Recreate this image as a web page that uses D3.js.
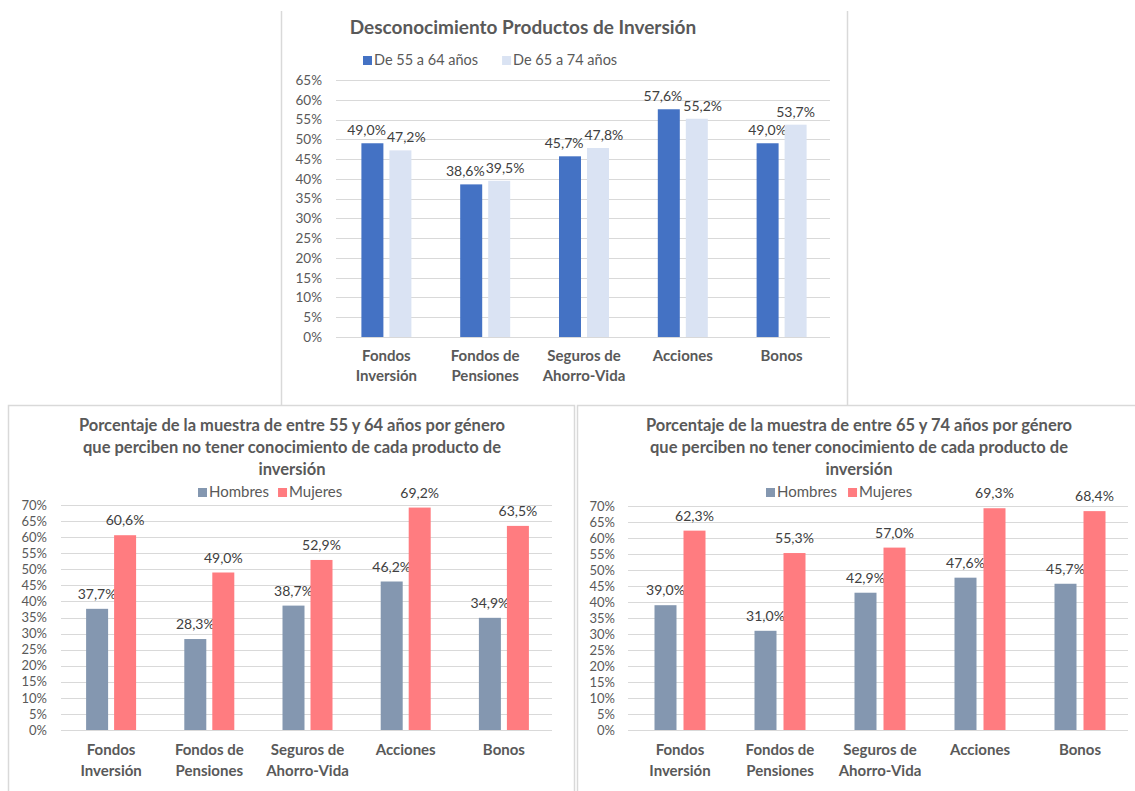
<!DOCTYPE html>
<html><head><meta charset="utf-8">
<script src="https://cdn.jsdelivr.net/npm/d3@7"></script>
<style>html,body{margin:0;padding:0;background:#fff;}svg{display:block;}</style>
</head><body>
<svg id="c" width="1135" height="791"></svg>
<script>
const categories = [["Fondos","Inversión"],["Fondos de","Pensiones"],["Seguros de","Ahorro-Vida"],["Acciones"],["Bonos"]];
const age5564 = [49.0, 38.6, 45.7, 57.6, 49.0];
const age6574 = [47.2, 39.5, 47.8, 55.2, 53.7];
const hombres5564 = [37.7, 28.3, 38.7, 46.2, 34.9];
const mujeres5564 = [60.6, 49.0, 52.9, 69.2, 63.5];
const hombres6574 = [39.0, 31.0, 42.9, 47.6, 45.7];
const mujeres6574 = [62.3, 55.3, 57.0, 69.3, 68.4];
const ticksTop = [0,5,10,15,20,25,30,35,40,45,50,55,60,65];
const ticksBottom = [0,5,10,15,20,25,30,35,40,45,50,55,60,65,70];
const legendTop = ["De 55 a 64 años","De 65 a 74 años"];
const legendGender = ["Hombres","Mujeres"];
const titleTop = ["Desconocimiento Productos de Inversión"];
const titleLeft = ["Porcentaje de la muestra de entre 55 y 64 años por género","que perciben no tener conocimiento de cada producto de","inversión"];
const titleRight = ["Porcentaje de la muestra de entre 65 y 74 años por género","que perciben no tener conocimiento de cada producto de","inversión"];

const FONT = "Lato, Carlito, Calibri, sans-serif";
const svg = d3.select("#c");
const fmt = v => v.toFixed(1).replace(".", ",") + "%";

// panel borders
const border = "#d9d9d9";
svg.append("line").attr("x1",281.5).attr("x2",281.5).attr("y1",11).attr("y2",405).attr("stroke",border).attr("stroke-width",1.5);
svg.append("line").attr("x1",847.5).attr("x2",847.5).attr("y1",11).attr("y2",405).attr("stroke",border).attr("stroke-width",1.5);
svg.append("rect").attr("x",8.5).attr("y",405.5).attr("width",566).attr("height",420).attr("fill","none").attr("stroke",border).attr("stroke-width",1.5);
svg.append("rect").attr("x",577.5).attr("y",405.5).attr("width",600).attr("height",420).attr("fill","none").attr("stroke",border).attr("stroke-width",1.5);

function drawChart(o) {
  const g = svg.append("g");
  const x = d3.scaleBand().domain(d3.range(categories.length)).range([o.x0, o.x1]);
  const y = d3.scaleLinear().domain([0, d3.max(o.ticks)]).range([o.y0, o.yTop]);
  g.selectAll(".grid").data(o.ticks).join("line")
    .attr("x1", o.x0).attr("x2", o.x1)
    .attr("y1", d => Math.round(y(d)) + 0.5).attr("y2", d => Math.round(y(d)) + 0.5)
    .attr("stroke", "#d9d9d9").attr("stroke-width", 1);
  const yAxis = d3.axisLeft(y).tickValues(o.ticks).tickFormat(d => d + "%").tickSize(0).tickPadding(0);
  const ya = g.append("g").attr("transform", `translate(${o.yLabelX},0)`).call(yAxis);
  ya.select(".domain").remove();
  ya.selectAll("text").attr("font-family", FONT).attr("font-size", o.tickFont).attr("fill", "#595959");
  const bw = o.barW, gap = o.gap;
  const labels = [];
  o.series.forEach((s, si) => {
    const off = si === 0 ? -(gap / 2 + bw) : gap / 2;
    g.selectAll(".bar" + si).data(s.values).join("rect")
      .attr("x", (d, i) => x(i) + x.bandwidth() / 2 + off + o.shift)
      .attr("y", d => y(d)).attr("width", bw).attr("height", d => y(0) - y(d))
      .attr("fill", s.color);
    labels.push(g.selectAll(".lab" + si).data(s.values).join("text")
      .attr("x", (d, i) => x(i) + x.bandwidth() / 2 + off + o.shift + bw / 2)
      .attr("y", d => y(d) - o.labGap)
      .attr("text-anchor", "middle").attr("font-family", FONT).attr("font-size", o.labFont)
      .attr("fill", "#404040").text(d => fmt(d)).nodes());
  });
  // de-overlap pair labels horizontally (as the spreadsheet does)
  categories.forEach((c, i) => {
    const a = labels[0][i], b = labels[1][i];
    const ba = a.getBBox(), bb = b.getBBox();
    const vOverlap = !(ba.y + ba.height <= bb.y || bb.y + bb.height <= ba.y);
    const over = (ba.x + ba.width + 1) - bb.x;
    if (vOverlap && over > 0) {
      a.setAttribute("x", +a.getAttribute("x") - over / 2);
      b.setAttribute("x", +b.getAttribute("x") + over / 2);
    }
  });
  categories.forEach((c, i) => {
    c.forEach((line, li) => {
      g.append("text").attr("x", x(i) + x.bandwidth() / 2 + o.shift)
        .attr("y", o.catY + li * o.catLH)
        .attr("text-anchor", "middle").attr("font-family", FONT).attr("font-weight", "bold")
        .attr("font-size", o.catFont).attr("fill", "#595959").text(line);
    });
  });
  o.title.forEach((t, i) => {
    g.append("text").attr("x", o.titleX).attr("y", o.titleY + i * o.titleLH)
      .attr("text-anchor", "middle").attr("font-family", FONT).attr("font-weight", "bold")
      .attr("font-size", o.titleFont).attr("fill", "#595959").text(t);
  });
  let lx = o.legX;
  o.series.forEach((s, si) => {
    g.append("rect").attr("x", lx).attr("y", o.legY - 9).attr("width", 9).attr("height", 9).attr("fill", s.color);
    const t = g.append("text").attr("x", lx + 11).attr("y", o.legY)
      .attr("font-family", FONT).attr("font-size", o.legFont).attr("fill", "#595959").text(s.name);
    lx += 11 + t.node().getComputedTextLength() + o.legSpace;
  });
}

drawChart({
  x0: 336, x1: 830, y0: 337, yTop: 80, ticks: ticksTop, yLabelX: 322,
  barW: 22, gap: 6, shift: 1, labGap: 8, labFont: 14, tickFont: 13.5,
  catY: 361, catLH: 20, catFont: 15,
  title: titleTop, titleX: 523, titleY: 34, titleLH: 20, titleFont: 19,
  legX: 363, legY: 65, legFont: 14.5, legSpace: 24,
  series: [{name: legendTop[0], values: age5564, color: "#4472C4"},
           {name: legendTop[1], values: age6574, color: "#DAE3F3"}]
});
drawChart({
  x0: 61, x1: 552, y0: 730, yTop: 505, ticks: ticksBottom, yLabelX: 47,
  barW: 22, gap: 6, shift: 1, labGap: 10, labFont: 14, tickFont: 13,
  catY: 755, catLH: 21, catFont: 15,
  title: titleLeft, titleX: 292, titleY: 431, titleLH: 22, titleFont: 16.5,
  legX: 198, legY: 497, legFont: 15, legSpace: 9,
  series: [{name: legendGender[0], values: hombres5564, color: "#8497B0"},
           {name: legendGender[1], values: mujeres5564, color: "#FF7C80"}]
});
drawChart({
  x0: 628, x1: 1128, y0: 730, yTop: 506, ticks: ticksBottom, yLabelX: 615,
  barW: 22, gap: 7, shift: 2, labGap: 10, labFont: 14, tickFont: 13,
  catY: 755, catLH: 21, catFont: 15,
  title: titleRight, titleX: 859, titleY: 431, titleLH: 22, titleFont: 16.5,
  legX: 766, legY: 497, legFont: 15, legSpace: 11,
  series: [{name: legendGender[0], values: hombres6574, color: "#8497B0"},
           {name: legendGender[1], values: mujeres6574, color: "#FF7C80"}]
});
</script>
</body></html>
